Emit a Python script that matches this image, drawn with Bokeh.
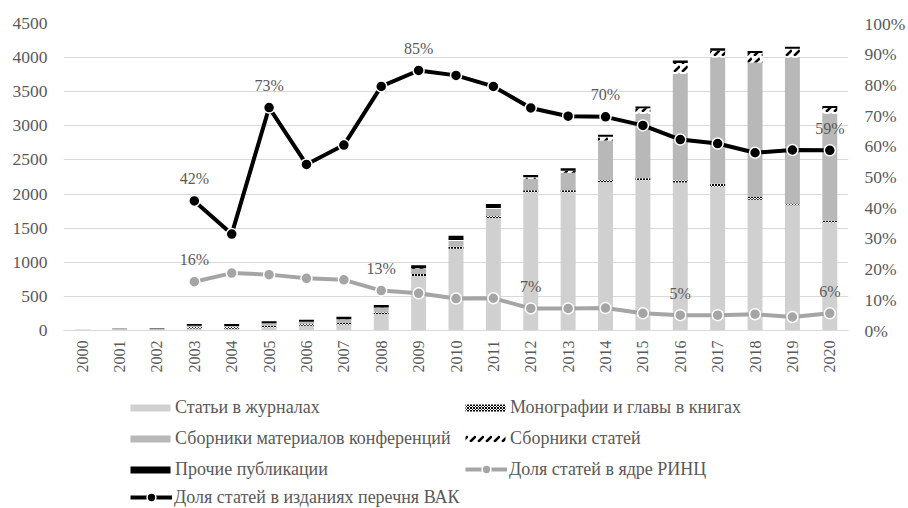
import math
from bokeh.plotting import figure
from bokeh.models import (FactorRange, Range1d, LinearAxis, FixedTicker, PrintfTickFormatter,
                          ColumnDataSource, Legend, LegendItem)
from bokeh.transform import stack
from bokeh.layouts import column
from bokeh.embed import file_html
from bokeh.resources import INLINE
from bokeh.core.properties import value

# ---------------- data ----------------
years = ["2000", "2001", "2002", "2003", "2004", "2005", "2006", "2007", "2008", "2009", "2010",
         "2011", "2012", "2013", "2014", "2015", "2016", "2017", "2018", "2019", "2020"]

articles = [12, 10, 8, 28, 25, 45, 70, 85, 243, 798, 1197, 1650, 2026, 2026, 2176, 2201, 2171, 2107, 1918, 1835, 1582]
monographs = [0, 2, 3, 25, 25, 25, 25, 25, 25, 30, 30, 30, 30, 30, 30, 30, 30, 45, 40, 25, 25]
conferences = [3, 15, 12, 15, 15, 35, 30, 50, 65, 75, 85, 105, 170, 255, 580, 945, 1560, 1850, 1970, 2140, 1570]
collections = [0, 0, 0, 2, 2, 3, 3, 5, 5, 10, 15, 10, 20, 30, 55, 80, 160, 100, 140, 130, 85]
other = [0, 3, 7, 25, 30, 28, 30, 35, 34, 45, 63, 58, 35, 38, 27, 28, 35, 36, 30, 31, 27]

share_vak = [None, None, None, 42.2, 31.4, 72.6, 54.1, 60.4, 79.5, 84.7, 83.1, 79.5, 72.5, 69.8,
             69.6, 66.8, 62.2, 60.9, 57.9, 58.8, 58.7]
share_rinc = [None, None, None, 15.9, 18.7, 18.2, 17.0, 16.5, 13.0, 12.1, 10.4, 10.5, 7.2, 7.2,
              7.3, 5.6, 5.0, 5.0, 5.3, 4.4, 5.6]

vak_label_years = ["2003", "2005", "2009", "2014", "2020"]
rinc_label_years = ["2003", "2008", "2012", "2016", "2020"]

left_ticks = [0, 500, 1000, 1500, 2000, 2500, 3000, 3500, 4000, 4500]
right_ticks = [0, 10, 20, 30, 40, 50, 60, 70, 80, 90, 100]

names = ["Статьи в журналах", "Монографии и главы в книгах", "Сборники материалов конференций",
         "Сборники статей", "Прочие публикации", "Доля статей в ядре РИНЦ",
         "Доля статей в изданиях перечня ВАК"]

# ---------------- styles ----------------
FONT = "Liberation Serif"
TXT = "#595959"
GRID = "#d9d9d9"
C_ART = "#d0d0d0"
C_CONF = "#b8b8b8"
C_RINC = "#a5a5a5"

bar_styles = [
    dict(fill_color=C_ART, hatch_pattern="blank", hatch_color="black"),
    dict(fill_color="white", hatch_pattern="diagonal_cross", hatch_color="black", hatch_scale=3, hatch_weight=1),
    dict(fill_color=C_CONF, hatch_pattern="blank", hatch_color="black"),
    dict(fill_color="white", hatch_pattern="right_diagonal_dash", hatch_color="black", hatch_scale=8, hatch_weight=2.5),
    dict(fill_color="black", hatch_pattern="blank", hatch_color="black"),
]

stackers = ["articles", "monographs", "conferences", "collections", "other"]
src = ColumnDataSource(dict(year=years, articles=articles, monographs=monographs,
                            conferences=conferences, collections=collections, other=other))

W = 908
p = figure(x_range=FactorRange(*years), y_range=Range1d(0, 4500),
           width=W, height=375, output_backend="svg", toolbar_location=None,
           min_border_left=63, min_border_right=57, min_border_top=23, min_border_bottom=45)
p.extra_y_ranges = {"pct": Range1d(0, 100)}
p.outline_line_color = None
p.xgrid.grid_line_color = None
p.ygrid.grid_line_color = GRID
p.ygrid.grid_line_width = 1

# stacked bars
for i, col in enumerate(stackers):
    p.vbar(x="year", bottom=stack(*stackers[:i]), top=stack(*stackers[:i + 1]),
           width=0.4, source=src, line_color=None, **bar_styles[i])

# lines
def series_src(vals):
    xs = [y for y, v in zip(years, vals) if v is not None]
    ys = [v for v in vals if v is not None]
    return ColumnDataSource(dict(x=xs, y=ys))

def label_src(vals, label_years):
    d = dict(zip(years, vals))
    return ColumnDataSource(dict(x=label_years, y=[d[y] for y in label_years],
                                 t=[f"{round(d[y])}%" for y in label_years]))

rinc_src = series_src(share_rinc)
vak_src = series_src(share_vak)

p.line("x", "y", source=rinc_src, line_color=C_RINC, line_width=4, y_range_name="pct")
p.scatter("x", "y", source=rinc_src, size=11, fill_color=C_RINC, line_color="white", line_width=1.5,
          y_range_name="pct")
p.line("x", "y", source=vak_src, line_color="black", line_width=4, y_range_name="pct")
p.scatter("x", "y", source=vak_src, size=11, fill_color="black", line_color="white", line_width=1.5,
          y_range_name="pct")

for s in (label_src(share_vak, vak_label_years), label_src(share_rinc, rinc_label_years)):
    p.text("x", "y", text="t", source=s, y_range_name="pct", y_offset=-22,
           text_font=value(FONT), text_font_size="16px", text_color=TXT,
           text_align="center", text_baseline="middle")

# axes
p.yaxis.ticker = FixedTicker(ticks=left_ticks)
right = LinearAxis(y_range_name="pct", ticker=FixedTicker(ticks=right_ticks),
                   formatter=PrintfTickFormatter(format="%d%%"))
p.add_layout(right, "right")

for ax in (p.yaxis[0], right):
    ax.axis_line_color = None
    ax.major_label_standoff = 16
for ax in (p.xaxis[0], p.yaxis[0], right):
    ax.major_tick_line_color = None
    ax.minor_tick_line_color = None
    ax.major_tick_out = 0
    ax.major_tick_in = 0
    ax.major_label_text_font = FONT
    ax.major_label_text_color = TXT
p.yaxis[0].major_label_text_font_size = "17.5px"
right.major_label_text_font_size = "17.5px"
p.xaxis.axis_line_color = GRID
p.xaxis.axis_line_width = 1
p.xaxis.major_label_orientation = math.pi / 2
p.xaxis.major_label_standoff = 10
p.xaxis.major_label_text_font_size = "16px"

# ---------------- legend figure ----------------
p2 = figure(width=W, height=133, x_range=Range1d(0, 1), y_range=Range1d(0, 1),
            output_backend="svg", toolbar_location=None,
            min_border_left=63, min_border_right=57, min_border_top=0, min_border_bottom=0,
            x_axis_location=None, y_axis_location=None)
p2.grid.visible = False
p2.outline_line_color = None

dummy_bars = [p2.vbar(x=[-10], top=[-10], width=0.4, line_color=None, **st) for st in bar_styles]
rinc_l = p2.line(x=[-10, -9], y=[-10, -10], line_color=C_RINC, line_width=4)
rinc_m = p2.scatter(x=[-10], y=[-10], size=10, fill_color=C_RINC, line_color="white", line_width=1.5)
vak_l = p2.line(x=[-10, -9], y=[-10, -10], line_color="black", line_width=4)
vak_m = p2.scatter(x=[-10], y=[-10], size=10, fill_color="black", line_color="white", line_width=1.5)

def make_legend(items, loc, gw, gh, standoff):
    lg = Legend(items=items, location=loc, orientation="vertical",
                label_text_font=FONT, label_text_font_size="18px", label_text_color=TXT,
                glyph_width=gw, glyph_height=gh, label_height=22, label_standoff=standoff,
                spacing=9, padding=0, margin=0, border_line_color=None,
                background_fill_alpha=0)
    p2.add_layout(lg, "center")

# legend x positions are relative to the frame (page x 63)
make_legend([LegendItem(label=names[0], renderers=[dummy_bars[0]]),
             LegendItem(label=names[2], renderers=[dummy_bars[2]]),
             LegendItem(label=names[4], renderers=[dummy_bars[4]])], (62, 28), 50, 9, 0)
make_legend([LegendItem(label=names[6], renderers=[vak_l, vak_m])], (67, 0), 42, 22, 2)
make_legend([LegendItem(label=names[1], renderers=[dummy_bars[1]]),
             LegendItem(label=names[3], renderers=[dummy_bars[3]])], (397, 59), 50, 9, 0)
make_legend([LegendItem(label=names[5], renderers=[rinc_l, rinc_m])], (402, 28), 42, 22, 2)

layout = column(p, p2)
open("out.html", "w").write(file_html(layout, INLINE))
